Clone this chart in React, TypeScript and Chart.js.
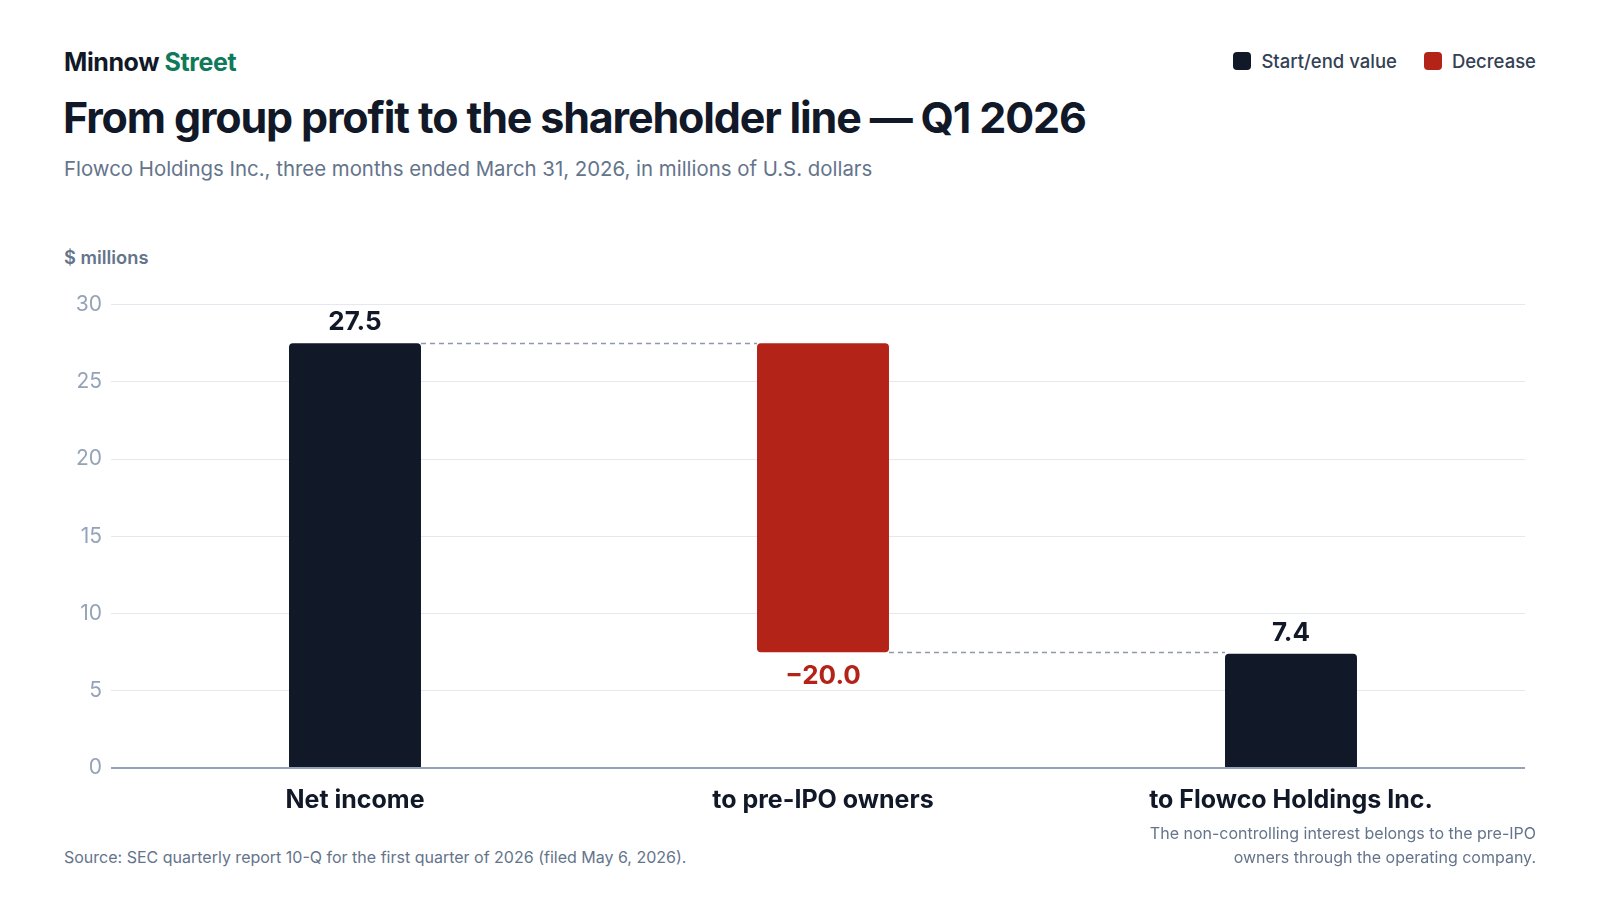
import React, { useEffect, useRef } from 'react';
import { Chart, registerables } from 'chart.js';

Chart.register(...registerables);

const categories = ['Net income', 'to pre-IPO owners', 'to Flowco Holdings Inc.'];
const values = [27.5, -20.0, 7.4];
const kinds = ['total', 'decrease', 'total'];
const yTicks = [0, 5, 10, 15, 20, 25, 30];

const DARK = '#111827';
const RED = '#b42318';
const FONT = 'Inter, "Noto Sans", sans-serif';

// floating ranges for the waterfall
const ranges: [number, number][] = [];
const levels: number[] = [];
let running = 0;
values.forEach((v, i) => {
    if (kinds[i] === 'total') {
        ranges.push([0, v]);
        running = v;
    } else {
        ranges.push([running + v, running]);
        running = running + v;
    }
    levels.push(running);
});

const fmt = (v: number) => (v < 0 ? '\u2212' + Math.abs(v).toFixed(1) : v.toFixed(1));

const waterfallLabels = {
    id: 'waterfallLabels',
    afterDatasetsDraw(chart: any) {
        const ctx = chart.ctx;
        const meta = chart.getDatasetMeta(0);
        const y = chart.scales.y;
        ctx.save();
        // connectors
        ctx.strokeStyle = '#8f99ab';
        ctx.lineWidth = 1.5;
        ctx.setLineDash([5, 4]);
        for (let i = 0; i < meta.data.length - 1; i++) {
            const a = meta.data[i];
            const b = meta.data[i + 1];
            const py = Math.round(y.getPixelForValue(levels[i])) + 0.5;
            ctx.beginPath();
            ctx.moveTo(a.x + a.width / 2, py);
            ctx.lineTo(b.x - b.width / 2, py);
            ctx.stroke();
        }
        ctx.setLineDash([]);
        // value labels
        ctx.font = `700 26px ${FONT}`;
        ctx.textAlign = 'center';
        meta.data.forEach((bar: any, i: number) => {
            const [lo, hi] = ranges[i];
            if (kinds[i] === 'decrease') {
                ctx.fillStyle = RED;
                ctx.textBaseline = 'top';
                ctx.fillText(fmt(values[i]), bar.x, y.getPixelForValue(lo) + 11);
            } else {
                ctx.fillStyle = DARK;
                ctx.textBaseline = 'bottom';
                ctx.fillText(fmt(values[i]), bar.x, y.getPixelForValue(hi) - 8);
            }
        });
        ctx.restore();
    },
};

const WaterfallChart: React.FC = () => {
    const chartRef = useRef<HTMLCanvasElement>(null);
    const chartInstanceRef = useRef<Chart | null>(null);

    useEffect(() => {
        if (!chartRef.current) return;
        if (chartInstanceRef.current) chartInstanceRef.current.destroy();

        chartInstanceRef.current = new Chart(chartRef.current, {
            type: 'bar',
            data: {
                labels: categories,
                datasets: [
                    {
                        data: ranges as any,
                        backgroundColor: kinds.map((k) => (k === 'decrease' ? RED : DARK)),
                        borderRadius: 4,
                        borderSkipped: ((c: any) => (kinds[c.dataIndex] === 'decrease' ? false : 'start')) as any,
                        barPercentage: 0.282,
                        categoryPercentage: 1,
                    },
                ],
            },
            options: {
                animation: false,
                responsive: true,
                maintainAspectRatio: false,
                layout: { padding: { top: 17, right: 15, left: 0, bottom: 0 } },
                plugins: {
                    legend: { display: false },
                    tooltip: { enabled: false },
                },
                scales: {
                    x: {
                        grid: { display: false, drawTicks: false },
                        border: { display: false },
                        ticks: {
                            color: DARK,
                            font: { family: FONT, size: 25, weight: 'bold' },
                            padding: 17,
                        },
                        afterFit: (s: any) => {
                            s.height = 68;
                        },
                    },
                    y: {
                        min: 0,
                        max: 30,
                        afterBuildTicks: (s: any) => {
                            s.ticks = yTicks.map((v) => ({ value: v }));
                        },
                        grid: {
                            color: (c: any) => (c.tick && c.tick.value === 0 ? '#94a3b8' : '#e5e8ee'),
                            lineWidth: (c: any) => (c.tick && c.tick.value === 0 ? 2 : 1),
                            drawTicks: true,
                            tickLength: 10,
                        },
                        border: { display: false },
                        ticks: {
                            color: '#94a3b8',
                            font: { family: FONT, size: 21 },
                            padding: 9,
                        },
                        afterFit: (s: any) => {
                            s.width = 81;
                        },
                    },
                },
            },
            plugins: [waterfallLabels],
        });

        return () => {
            if (chartInstanceRef.current) {
                chartInstanceRef.current.destroy();
                chartInstanceRef.current = null;
            }
        };
    }, []);

    return <canvas ref={chartRef} />;
};

const Swatch: React.FC<{ color: string; label: string }> = ({ color, label }) => (
    <span style={{ display: 'inline-flex', alignItems: 'center', marginLeft: 27 }}>
        <span style={{ width: 18, height: 18, borderRadius: 4, background: color, marginRight: 10 }} />
        {label}
    </span>
);

export default function App() {
    return (
        <div
            style={{
                position: 'fixed',
                left: 0,
                top: 0,
                width: 1600,
                height: 900,
                background: '#ffffff',
                fontFamily: FONT,
                overflow: 'hidden',
            }}
        >
            <div style={{ position: 'absolute', left: 64, top: 47, fontSize: 25, fontWeight: 700, color: DARK, letterSpacing: -0.4 }}>
                Minnow <span style={{ color: '#0f7a5a' }}>Street</span>
            </div>
            <div
                style={{
                    position: 'absolute',
                    right: 64,
                    top: 50,
                    fontSize: 18.5,
                    fontWeight: 500,
                    color: '#334155',
                    display: 'flex',
                }}
            >
                <Swatch color={DARK} label="Start/end value" />
                <Swatch color={RED} label="Decrease" />
            </div>
            <div style={{ position: 'absolute', left: 63, top: 91, fontSize: 43, fontWeight: 700, color: DARK, letterSpacing: -1.15 }}>
                From group profit to the shareholder line — Q1 2026
            </div>
            <div style={{ position: 'absolute', left: 64, top: 156, fontSize: 20.4, color: '#64748b' }}>
                Flowco Holdings Inc., three months ended March 31, 2026, in millions of U.S. dollars
            </div>
            <div style={{ position: 'absolute', left: 64, top: 246, fontSize: 18.3, fontWeight: 600, color: '#64748b' }}>
                $ millions
            </div>
            <div style={{ position: 'absolute', left: 40, top: 283, width: 1500, height: 553 }}>
                <WaterfallChart />
            </div>
            <div style={{ position: 'absolute', left: 64, top: 847, fontSize: 16, lineHeight: '20px', color: '#64748b' }}>
                Source: SEC quarterly report 10-Q for the first quarter of 2026 (filed May 6, 2026).
            </div>
            <div
                style={{
                    position: 'absolute',
                    right: 64,
                    top: 821,
                    fontSize: 16,
                    lineHeight: '24px',
                    color: '#64748b',
                    textAlign: 'right',
                }}
            >
                The non-controlling interest belongs to the pre-IPO
                <br />
                owners through the operating company.
            </div>
        </div>
    );
}
